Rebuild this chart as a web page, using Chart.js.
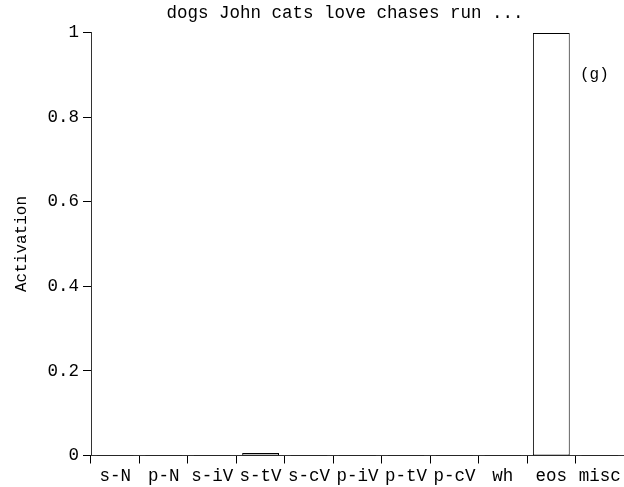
<!DOCTYPE html>
<html>
<head>
<meta charset="utf-8">
<script src="https://cdn.jsdelivr.net/npm/chart.js@4/dist/chart.umd.min.js"></script>
<style>
  html, body { margin: 0; padding: 0; background: #fff; }
  #wrap { width: 624px; height: 487px; }
</style>
</head>
<body>
<div id="wrap"><canvas id="actChart" width="624" height="487"></canvas></div>
<script>
const categories = ['s-N', 'p-N', 's-iV', 's-tV', 's-cV', 'p-iV', 'p-tV', 'p-cV', 'wh', 'eos', 'misc']
const activation = [0, 0, 0, 0.007, 0, 0, 0, 0, 0, 1, 0]
const yTicks = [0, 0.2, 0.4, 0.6, 0.8, 1]
const titleText = 'dogs John cats love chases run ...'
const panelTag = '(g)'

const monoFont = "'Courier New', 'Liberation Mono', monospace"

// title and panel tag drawn as plain text
const textLabels = {
  id: 'textLabels',
  beforeDatasetsDraw (chart) {
    // nudge bars half a pixel so the flat zero bars land crisp on the axis row
    chart.ctx.save()
    chart.ctx.translate(0, 0.5)
  },
  afterDatasetsDraw (chart) {
    chart.ctx.restore()
  },
  afterDraw (chart) {
    const ctx = chart.ctx
    ctx.save()
    ctx.fillStyle = '#000'
    ctx.font = '17.5px ' + monoFont
    ctx.textBaseline = 'middle'
    ctx.textAlign = 'center'
    ctx.fillText(titleText, 345, 13)
    ctx.font = '16px ' + monoFont
    ctx.textAlign = 'left'
    ctx.fillText(panelTag, 580, 75)
    ctx.restore()
  }
}

var ctx = document.getElementById('actChart').getContext('2d')
var actChart = new Chart(ctx, {
  type: 'bar',
  data: {
    labels: categories,
    datasets: [{
      data: activation,
      backgroundColor: '#fff',
      borderColor: '#000',
      borderWidth: 1,
      borderSkipped: false,
      minBarLength: 1,
      categoryPercentage: 1,
      barPercentage: 0.76
    }]
  },
  plugins: [textLabels],
  options: {
    responsive: false,
    animation: false,
    layout: { padding: { top: 32.5, left: 0, right: 0, bottom: 0 } },
    plugins: {
      legend: { display: false },
      tooltip: { enabled: false }
    },
    scales: {
      x: {
        offset: true,
        grid: { drawOnChartArea: false, drawTicks: true, tickLength: 8, color: '#000' },
        border: { display: true, color: '#333', dash: [1, 2] },
        ticks: { color: '#000', font: { family: monoFont, size: 17.5 }, padding: 2, maxRotation: 0, autoSkip: false },
        afterFit: function (scale) { scale.height = 31.5 }
      },
      y: {
        min: 0,
        max: 1,
        afterBuildTicks: function (scale) { scale.ticks = yTicks.map(v => ({ value: v })) },
        grid: { drawOnChartArea: false, drawTicks: true, tickLength: 8, color: '#000' },
        border: { display: true, color: '#333', dash: [1, 2] },
        ticks: {
          color: '#000',
          font: { family: monoFont, size: 17.5 },
          padding: 4,
          callback: function (v) { return String(Math.round(v * 10) / 10) }
        },
        title: {
          display: true,
          text: 'Activation',
          color: '#000',
          font: { family: monoFont, size: 16 },
          padding: { top: 12, bottom: 0 }
        },
        afterFit: function (scale) { scale.width = 91 }
      }
    }
  }
})
actChart.update()
</script>
</body>
</html>
